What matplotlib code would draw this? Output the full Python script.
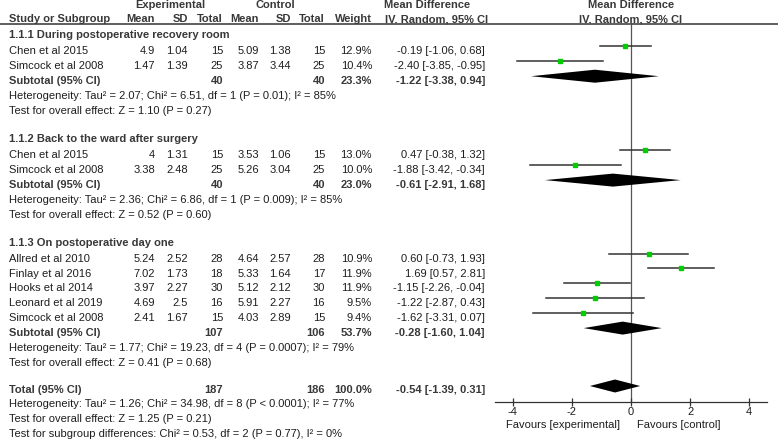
import matplotlib
matplotlib.use("Agg")
import matplotlib.pyplot as plt

plt.rcParams['font.family'] = ['Liberation Sans', 'DejaVu Sans']
plt.rcParams['axes.unicode_minus'] = False
plt.rcParams['font.size'] = 8

# subgroup titles
groups = ["1.1.1 During postoperative recovery room",
          "1.1.2 Back to the ward after surgery",
          "1.1.3 On postoperative day one"]

# study level data, one inner list per subgroup
studies = [["Chen et al 2015", "Simcock et al 2008"],
           ["Chen et al 2015", "Simcock et al 2008"],
           ["Allred et al 2010", "Finlay et al 2016", "Hooks et al 2014",
            "Leonard et al 2019", "Simcock et al 2008"]]
exp_mean = [[4.9, 1.47], [4, 3.38], [5.24, 7.02, 3.97, 4.69, 2.41]]
exp_sd = [[1.04, 1.39], [1.31, 2.48], [2.52, 1.73, 2.27, 2.5, 1.67]]
exp_n = [[15, 25], [15, 25], [28, 18, 30, 16, 15]]
ctl_mean = [[5.09, 3.87], [3.53, 5.26], [4.64, 5.33, 5.12, 5.91, 4.03]]
ctl_sd = [[1.38, 3.44], [1.06, 3.04], [2.57, 1.64, 2.12, 2.27, 2.89]]
ctl_n = [[15, 25], [15, 25], [28, 17, 30, 16, 15]]
weight = [[12.9, 10.4], [13.0, 10.0], [10.9, 11.9, 11.9, 9.5, 9.4]]
md = [[-0.19, -2.40], [0.47, -1.88], [0.60, 1.69, -1.15, -1.22, -1.62]]
md_lo = [[-1.06, -3.85], [-0.38, -3.42], [-0.73, 0.57, -2.26, -2.87, -3.31]]
md_hi = [[0.68, -0.95], [1.32, -0.34], [1.93, 2.81, -0.04, 0.43, 0.07]]

# subtotals
sub_exp_n = [40, 40, 107]
sub_ctl_n = [40, 40, 106]
sub_weight = [23.3, 23.0, 53.7]
sub_md = [-1.22, -0.61, -0.28]
sub_lo = [-3.38, -2.91, -1.60]
sub_hi = [0.94, 1.68, 1.04]
sub_het = ["Heterogeneity: Tau² = 2.07; Chi² = 6.51, df = 1 (P = 0.01); I² = 85%",
           "Heterogeneity: Tau² = 2.36; Chi² = 6.86, df = 1 (P = 0.009); I² = 85%",
           "Heterogeneity: Tau² = 1.77; Chi² = 19.23, df = 4 (P = 0.0007); I² = 79%"]
sub_z = ["Test for overall effect: Z = 1.10 (P = 0.27)",
         "Test for overall effect: Z = 0.52 (P = 0.60)",
         "Test for overall effect: Z = 0.41 (P = 0.68)"]

# overall
total_exp_n = 187
total_ctl_n = 186
total_weight = 100.0
total_md, total_lo, total_hi = -0.54, -1.39, 0.31
total_notes = ["Heterogeneity: Tau² = 1.26; Chi² = 34.98, df = 8 (P < 0.0001); I² = 77%",
               "Test for overall effect: Z = 1.25 (P = 0.21)",
               "Test for subgroup differences: Chi² = 0.53, df = 2 (P = 0.77), I² = 0%"]

xticks = [-4, -2, 0, 2, 4]

TXT = '#1e1e1e'
BOLD_TXT = '#383838'
GREEN = '#00cc00'
W, H = 778, 441
col_x = [155, 188, 223, 259, 291, 325, 372]   # right edges of the numeric columns
md_x = 485
mark_off = -8.3   # marks sit a bit above the text baseline

fig = plt.figure(figsize=(W / 100, H / 100), dpi=100)
bg = fig.add_axes([0, 0, 1, 1])
bg.set_xlim(0, W)
bg.set_ylim(H, 0)
bg.axis('off')

# forest panel, data y given in pixels so it lines up with the table
ax_top, ax_bot = 23.3, 402
ax = fig.add_axes([495 / W, (H - ax_bot) / H, 272 / W, (ax_bot - ax_top) / H])
ax.set_xlim(-4.6, 4.6)
ax.set_ylim(ax_bot, ax_top)
for s in ['top', 'left', 'right']:
    ax.spines[s].set_visible(False)
ax.spines['bottom'].set_color('#333333')
ax.spines['bottom'].set_linewidth(0.9)
ax.set_yticks([])
ax.set_xticks(xticks)
ax.set_xticklabels([str(t) for t in xticks])
ax.tick_params(axis='x', direction='inout', length=5.5, width=0.9, pad=1,
               colors='#333333', labelcolor=TXT, labelsize=8)
ax.patch.set_alpha(0)
ax.axvline(0, color='#555555', lw=0.9, zorder=1)


def txt(x, y, s, ha='left', bold=False):
    bg.text(x, y, s, ha=ha, va='baseline', color=BOLD_TXT if bold else TXT,
            fontweight='bold' if bold else 'normal')


def fmt_ci(m, lo, hi):
    return "{:.2f} [{:.2f}, {:.2f}]".format(m, lo, hi)


def diamond(m, lo, hi, y):
    ax.fill([lo, m, hi, m], [y, y - 6.5, y, y + 6.5], color='black', lw=0, zorder=3)


# header
txt(170, 8, "Experimental", ha='center', bold=True)
txt(275, 8, "Control", ha='center', bold=True)
txt(384, 8, "Mean Difference", bold=True)
ax.text(0, 8, "Mean Difference", ha='center', va='baseline', color=BOLD_TXT,
        fontweight='bold', clip_on=False)
txt(9, 22, "Study or Subgroup", bold=True)
for x, lab in zip(col_x, ["Mean", "SD", "Total", "Mean", "SD", "Total", "Weight"]):
    txt(x, 22, lab, ha='right', bold=True)
txt(385, 22, "IV. Random, 95% CI", bold=True)
ax.text(0, 22, "IV. Random, 95% CI", ha='center', va='baseline', color=BOLD_TXT,
        fontweight='bold', clip_on=False)
bg.plot([0, W], [23.5, 23.5], color='#333333', lw=1.1)

y = 38
for g in range(len(groups)):
    txt(9, y, groups[g], bold=True)
    y += 16.3
    for i in range(len(studies[g])):
        txt(9, y, studies[g][i])
        vals = ["{:g}".format(exp_mean[g][i]), "{:g}".format(exp_sd[g][i]), str(exp_n[g][i]),
                "{:g}".format(ctl_mean[g][i]), "{:g}".format(ctl_sd[g][i]), str(ctl_n[g][i]),
                "{:.1f}%".format(weight[g][i])]
        for x, v in zip(col_x, vals):
            txt(x, y, v, ha='right')
        txt(md_x, y, fmt_ci(md[g][i], md_lo[g][i], md_hi[g][i]), ha='right')
        ax.plot([md_lo[g][i], md_hi[g][i]], [y + mark_off] * 2, color='#333333', lw=1.1, zorder=2)
        ax.plot(md[g][i], y + mark_off, 's', color=GREEN, ms=3.2, mec=GREEN, zorder=4)
        y += 14.7
    txt(9, y, "Subtotal (95% CI)", bold=True)
    txt(col_x[2], y, str(sub_exp_n[g]), ha='right', bold=True)
    txt(col_x[5], y, str(sub_ctl_n[g]), ha='right', bold=True)
    txt(col_x[6], y, "{:.1f}%".format(sub_weight[g]), ha='right', bold=True)
    txt(md_x, y, fmt_ci(sub_md[g], sub_lo[g], sub_hi[g]), ha='right', bold=True)
    diamond(sub_md[g], sub_lo[g], sub_hi[g], y + mark_off + 0.8)
    y += 15.2
    txt(9, y, sub_het[g])
    y += 15
    txt(9, y, sub_z[g])
    y += 28

y -= 1
txt(9, y, "Total (95% CI)", bold=True)
txt(col_x[2], y, str(total_exp_n), ha='right', bold=True)
txt(col_x[5], y, str(total_ctl_n), ha='right', bold=True)
txt(col_x[6], y, "{:.1f}%".format(total_weight), ha='right', bold=True)
txt(md_x, y, fmt_ci(total_md, total_lo, total_hi), ha='right', bold=True)
diamond(total_md, total_lo, total_hi, y + mark_off + 1.5)
for note in total_notes:
    y += 14.7
    txt(9, y, note)

ax.text(-0.37, 428, "Favours [experimental]", ha='right', va='baseline', color=TXT, clip_on=False)
ax.text(0.2, 428, "Favours [control]", ha='left', va='baseline', color=TXT, clip_on=False)

fig.savefig("out.png", dpi=100)
